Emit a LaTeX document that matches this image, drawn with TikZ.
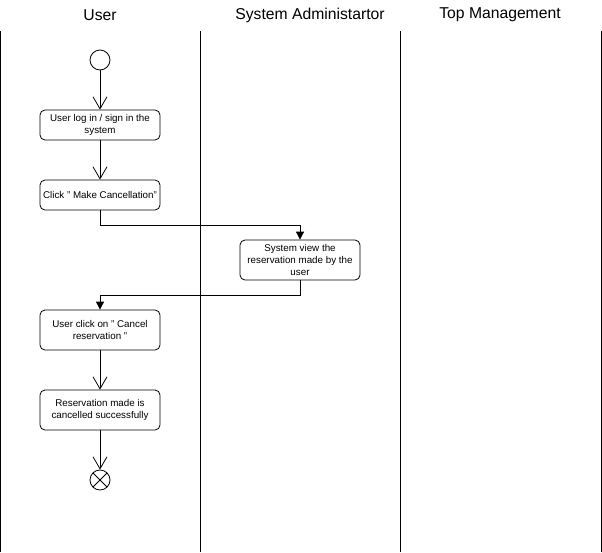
\documentclass[tikz,border=0pt]{standalone}
\usepackage{fontspec}
\setmainfont{Liberation Sans}
\usetikzlibrary{arrows.meta}
\begin{document}
\begin{tikzpicture}[x=1pt,y=-1pt,
  lane/.style={draw=black,line width=1pt},
  title/.style={font=\fontsize{15.7}{18}\selectfont},
  act/.style={draw=black,line width=0.8pt,rounded corners=5pt,minimum width=120pt,align=center,inner sep=2pt,font=\fontsize{9.8}{12}\selectfont},
  openarr/.style={draw=black,line width=0.8pt,-{Straight Barb[length=12pt,width=14pt,line width=0.8pt]}},
  flowarr/.style={draw=black,line width=0.8pt,-{Triangle[length=8pt,width=8pt]}},
  startnode/.style={circle,draw=black,line width=0.8pt,minimum size=20pt,inner sep=0pt},
  endnode/.style={circle,draw=black,line width=0.8pt,minimum size=20pt,inner sep=0pt,
    path picture={\draw[line width=0.8pt] (path picture bounding box.north west)--(path picture bounding box.south east) (path picture bounding box.north east)--(path picture bounding box.south west);}}
]
\useasboundingbox (0,0) rectangle (602,552);
% lanes
\draw[lane] (0.8,31) -- (0.8,552);
\draw[lane] (200.5,31) -- (200.5,552);
\draw[lane] (400.5,31) -- (400.5,552);
\draw[lane] (601.2,31) -- (601.2,552);
\node[title] (tuser) at (100,15) {User};
\node[title] (tsys) at (310,15) {System Administartor};
\node[title] (ttop) at (500,15) {Top Management};
% nodes
\node[startnode] (start) at (100,60) {};
\node[act,minimum height=30pt] (a1) at (100,125) {User log in / sign in the\\system};
\node[act,minimum height=30pt] (a2) at (100,195) {Click " Make Cancellation"};
\node[act,minimum height=40pt] (a3) at (300,260) {System view the\\reservation made by the\\user};
\node[act,minimum height=40pt] (a4) at (100,330) {User click on " Cancel\\reservation "};
\node[act,minimum height=40pt] (a5) at (100,410) {Reservation made is\\cancelled successfully};
\node[endnode] (end) at (100,480) {};
% connectors
\draw[openarr] (start) -- (a1);
\draw[openarr] (a1) -- (a2);
\draw[flowarr] (a2.south) -- ++(0,15) -| (a3.north);
\draw[flowarr] (a3.south) -- ++(0,15) -| (a4.north);
\draw[openarr] (a4) -- (a5);
\draw[openarr] (a5) -- (end);
\end{tikzpicture}
\end{document}
